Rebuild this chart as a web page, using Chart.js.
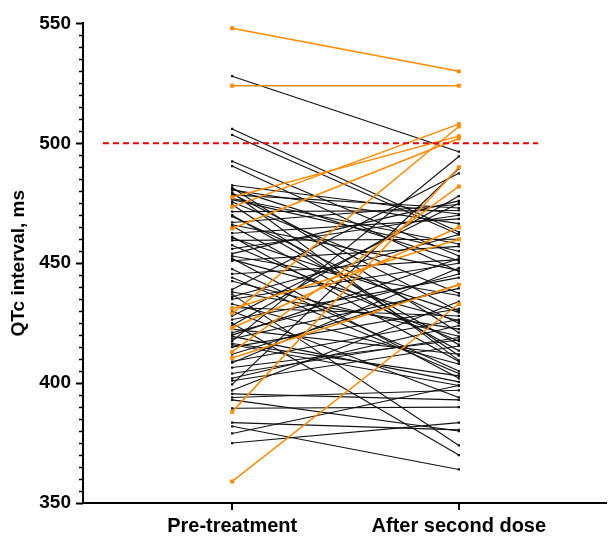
<!DOCTYPE html>
<html lang="en">
<head>
  <meta charset="UTF-8">
  <title>QTc interval before and after second dose</title>
  <script src="https://cdn.jsdelivr.net/npm/chart.js"></script>
  <style>
    body { margin: 0; background: #fff; }
    #wrap { width: 609px; height: 538px; }
  </style>
</head>
<body>
  <div id="wrap"><canvas id="qtcChart" width="609" height="538"></canvas></div>

<script>
  // timepoints on the x axis
  const categories = ['Pre-treatment', 'After second dose'];

  // patients who stayed below the threshold (ms)
  const preBlack = [528, 506, 503.5, 492.5, 490.5, 482.5, 481.5, 480.5, 479.5, 478.5,
    476.5, 475.5, 474.5, 471.5, 469.5, 467, 465.5, 462.5, 460.5, 459.5,
    457.5, 454, 453, 452, 451, 447.5, 445.5, 442.5, 439, 438,
    437, 435, 433, 431.5, 430, 426.5, 425, 424, 422.5, 421,
    419.5, 418.5, 417.5, 416.5, 415, 409, 408.5, 406.5, 402, 401,
    399.5, 397, 395.5, 394, 393, 389.5, 383.5, 382, 379, 375,
    481, 479, 477, 470, 466, 461, 456, 451.5, 444, 436,
    428, 420, 416, 412, 404];
  const postBlack = [496.5, 463, 462, 453, 446.5, 470.5, 421, 466.5, 409.5, 473,
    455, 437.5, 411.5, 472, 425, 474.5, 413.5, 468.5, 429.5, 460,
    417.5, 476, 436.5, 402, 457, 405, 451.5, 419.5, 487.5, 422.5,
    374, 450, 408, 428, 394, 444, 370, 478, 412, 445.5,
    400.5, 439.5, 494.5, 403, 431, 426.5, 448, 418, 424, 415.5,
    489.5, 434, 393, 397, 380, 390, 380.5, 364, 399, 383.5,
    451, 430, 458, 416, 447, 409, 470, 426, 404, 462,
    475, 452, 399, 441, 419];

  // patients with a value above the threshold at some point (ms)
  const preOrange = [548, 524, 477.5, 473.5, 464.5, 429, 423, 413, 410.5, 388, 359, 431];
  const postOrange = [530, 524, 503, 508, 502, 507, 465, 482, 441, 490, 433, 460];

  // reference threshold and where the dashed line starts/ends (x units)
  const threshold = 500;
  const thresholdSpan = [-0.57, 1.35];

  const BLACK = '#111111';
  const ORANGE = '#ff8a00';
  const FONT = 'Liberation Sans, Arial, sans-serif';

  function pairDataset(pre, post, color, width, radius, order) {
    return {
      data: [{ x: 0, y: pre }, { x: 1, y: post }],
      borderColor: color,
      backgroundColor: color,
      borderWidth: width,
      pointStyle: 'rect',
      pointRadius: radius,
      pointBorderWidth: 0,
      pointHoverRadius: radius,
      order: order
    };
  }

  const datasets = [];
  preOrange.forEach((v, i) => datasets.push(pairDataset(v, postOrange[i], ORANGE, 1.5, 2.8, 1)));
  preBlack.forEach((v, i) => datasets.push(pairDataset(v, postBlack[i], BLACK, 1.1, 1.6, 2)));
  datasets.push({
    data: thresholdSpan.map(x => ({ x, y: threshold })),
    borderColor: '#ee0000',
    borderWidth: 2,
    borderDash: [6, 4],
    pointRadius: 0,
    order: 0
  });

  // y axis tick marks: long at labels, short every 5 ms
  const yTickMarks = {
    id: 'yTickMarks',
    afterDraw(chart) {
      const s = chart.scales.y;
      const ctx = chart.ctx;
      const left = chart.chartArea.left;
      ctx.save();
      ctx.strokeStyle = '#000';
      for (let v = s.min; v <= s.max; v += 5) {
        const major = v % 50 === 0;
        const y = Math.round(s.getPixelForValue(v)) + 0.5;
        ctx.lineWidth = major ? 2 : 1.5;
        ctx.beginPath();
        ctx.moveTo(left - (major ? 7 : 4), y);
        ctx.lineTo(left, y);
        ctx.stroke();
      }
      ctx.restore();
    }
  };

  new Chart(document.getElementById('qtcChart'), {
    type: 'line',
    data: { datasets },
    plugins: [yTickMarks],
    options: {
      responsive: false,
      animation: false,
      devicePixelRatio: 1,
      layout: { padding: { top: 20, right: 0, left: 0, bottom: 0 } },
      plugins: { legend: { display: false }, tooltip: { enabled: false } },
      scales: {
        x: {
          type: 'linear',
          min: -0.658,
          max: 1.65,
          afterBuildTicks: s => { s.ticks = [{ value: 0 }, { value: 1 }]; },
          afterFit: s => { s.height = 35; },
          border: { display: true, color: '#000', width: 2 },
          grid: { display: true, drawOnChartArea: false, drawTicks: true, tickLength: 7, color: '#000', lineWidth: 2 },
          ticks: {
            autoSkip: false,
            maxRotation: 0,
            padding: 4,
            color: '#000',
            font: { family: FONT, size: 20, weight: 'bold' },
            callback: v => categories[v]
          }
        },
        y: {
          min: 350,
          max: 550,
          afterFit: s => { s.width = 83; },
          border: { display: true, color: '#000', width: 2 },
          grid: { display: false, drawTicks: false },
          ticks: {
            stepSize: 50,
            padding: 12,
            color: '#000',
            font: { family: FONT, size: 19, weight: 'bold' }
          },
          title: {
            display: true,
            text: 'QTc interval, ms',
            color: '#000',
            padding: { top: 7, bottom: 0 },
            font: { family: FONT, size: 19, weight: 'bold' }
          }
        }
      }
    }
  });
</script>
</body>
</html>
